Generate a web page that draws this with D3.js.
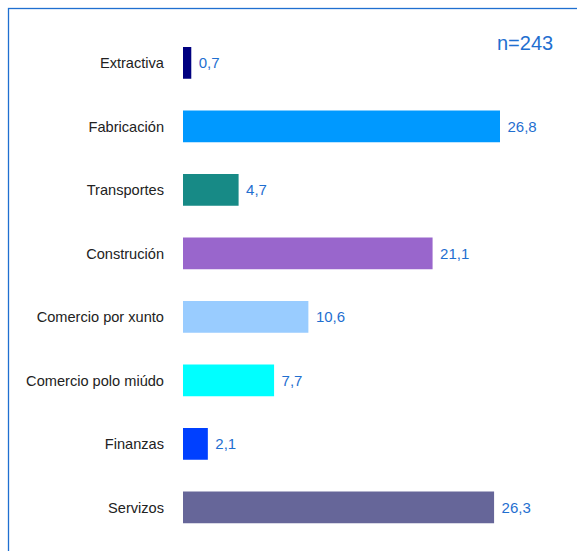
<!DOCTYPE html>
<html>
<head>
<meta charset="utf-8">
<script src="https://cdn.jsdelivr.net/npm/d3@7"></script>
<style>
html,body{margin:0;padding:0;background:#fff;}
svg{display:block;}
</style>
</head>
<body>
<script>
const categories = ["Extractiva","Fabricación","Transportes","Construción","Comercio por xunto","Comercio polo miúdo","Finanzas","Servizos"];
const values = [0.7, 26.8, 4.7, 21.1, 10.6, 7.7, 2.1, 26.3];
const colors = ["#000080","#0099ff","#178a86","#9966cc","#99ccff","#00ffff","#0040ff","#666699"];
const sampleLabel = "n=243";

const W = 577, H = 551;
const svg = d3.select("body").append("svg").attr("width", W).attr("height", H);

// frame
svg.append("rect").attr("x", 8.5).attr("y", 8.5).attr("width", W + 20).attr("height", H + 20)
  .attr("fill", "none").attr("stroke", "#1f6fd0").attr("stroke-width", 1.3);

const x = d3.scaleLinear().domain([0, 26.8]).range([183, 500]);
const y = d3.scaleBand().domain(categories).range([15.25, 555]).paddingInner(0.5).paddingOuter(0.5);

const data = categories.map((c, i) => ({c, v: values[i], col: colors[i]}));

svg.selectAll("rect.bar").data(data).enter().append("rect").attr("class","bar")
  .attr("x", x(0)).attr("y", d => y(d.c))
  .attr("width", d => x(d.v) - x(0)).attr("height", y.bandwidth())
  .attr("fill", d => d.col);

const yAxis = d3.axisLeft(y).tickSize(0).tickPadding(0);
const gAxis = svg.append("g").attr("transform", "translate(164,0)").call(yAxis);
gAxis.select(".domain").remove();
gAxis.selectAll("text").attr("font-family", "'Liberation Sans', Arial, sans-serif")
  .attr("font-size", "14.6px").attr("fill", "#222").attr("dy", "0.35em");

svg.selectAll("text.val").data(data).enter().append("text").attr("class","val")
  .attr("x", d => x(d.v) + 7.5).attr("y", d => y(d.c) + y.bandwidth() / 2)
  .attr("dy", "0.36em")
  .attr("font-family", "'Liberation Sans', Arial, sans-serif").attr("font-size", "15px")
  .attr("fill", "#1f6fd0")
  .text(d => d3.format(".1f")(d.v).replace(".", ","));

svg.append("text").attr("x", 497).attr("y", 50)
  .attr("font-family", "'Liberation Sans', Arial, sans-serif").attr("font-size", "20px")
  .attr("fill", "#1f6fd0").text(sampleLabel);
</script>
</body>
</html>
